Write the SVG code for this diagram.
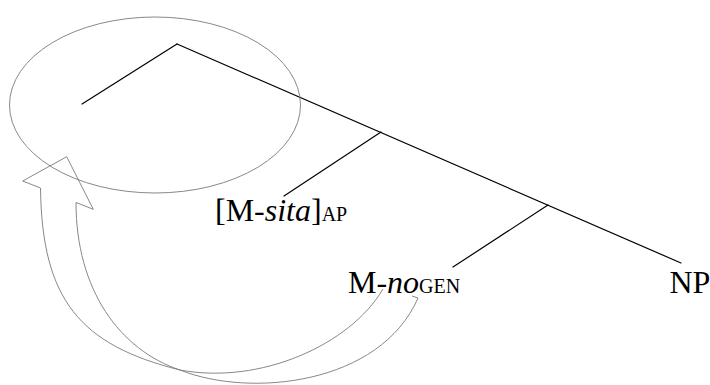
<svg xmlns="http://www.w3.org/2000/svg" width="710" height="385" viewBox="0 0 710 385">
<style>
.br{stroke:#000;stroke-width:1.2;fill:none;stroke-linecap:round}
.gr{stroke:#7a7a7a;stroke-width:0.9;fill:none;stroke-linejoin:miter}
text{font-family:"Liberation Serif","Times New Roman",Times,serif;font-size:32px;fill:#000}
.sub{font-size:20px}
.it{font-style:italic}
</style>
<rect width="710" height="385" fill="#fff"/>
<g id="connectors">
<line class="br" x1="177" y1="44" x2="82" y2="104"/>
<line class="br" x1="177" y1="44" x2="681" y2="263"/>
<line class="br" x1="381" y1="132" x2="284" y2="196"/>
<line class="br" x1="548" y1="205" x2="453" y2="267"/>
</g>
<g id="node-ap"><text x="215" y="221" font-family="Liberation Serif, serif">[M-<tspan class="it">sita</tspan>]<tspan class="sub">AP</tspan></text></g>
<g id="node-gen"><text x="348" y="293" font-family="Liberation Serif, serif">M-<tspan class="it">no</tspan><tspan class="sub">GEN</tspan></text></g>
<g id="node-np"><text x="669.5" y="293" font-family="Liberation Serif, serif">NP</text></g>
<g id="ellipse"><ellipse class="gr" cx="155" cy="105" rx="145.5" ry="88"/></g>
<g id="arrow">
<path class="gr" d="M383,289 C350,345 260,385 180,370 C80,345 42,300 40.5,188 L22.7,181 L66.7,156.7 L93.3,209.3 L76,202.5 C76,290 120,350 180,370 C250,398 380,385 418,298 L412,296"/>
</g>
</svg>
